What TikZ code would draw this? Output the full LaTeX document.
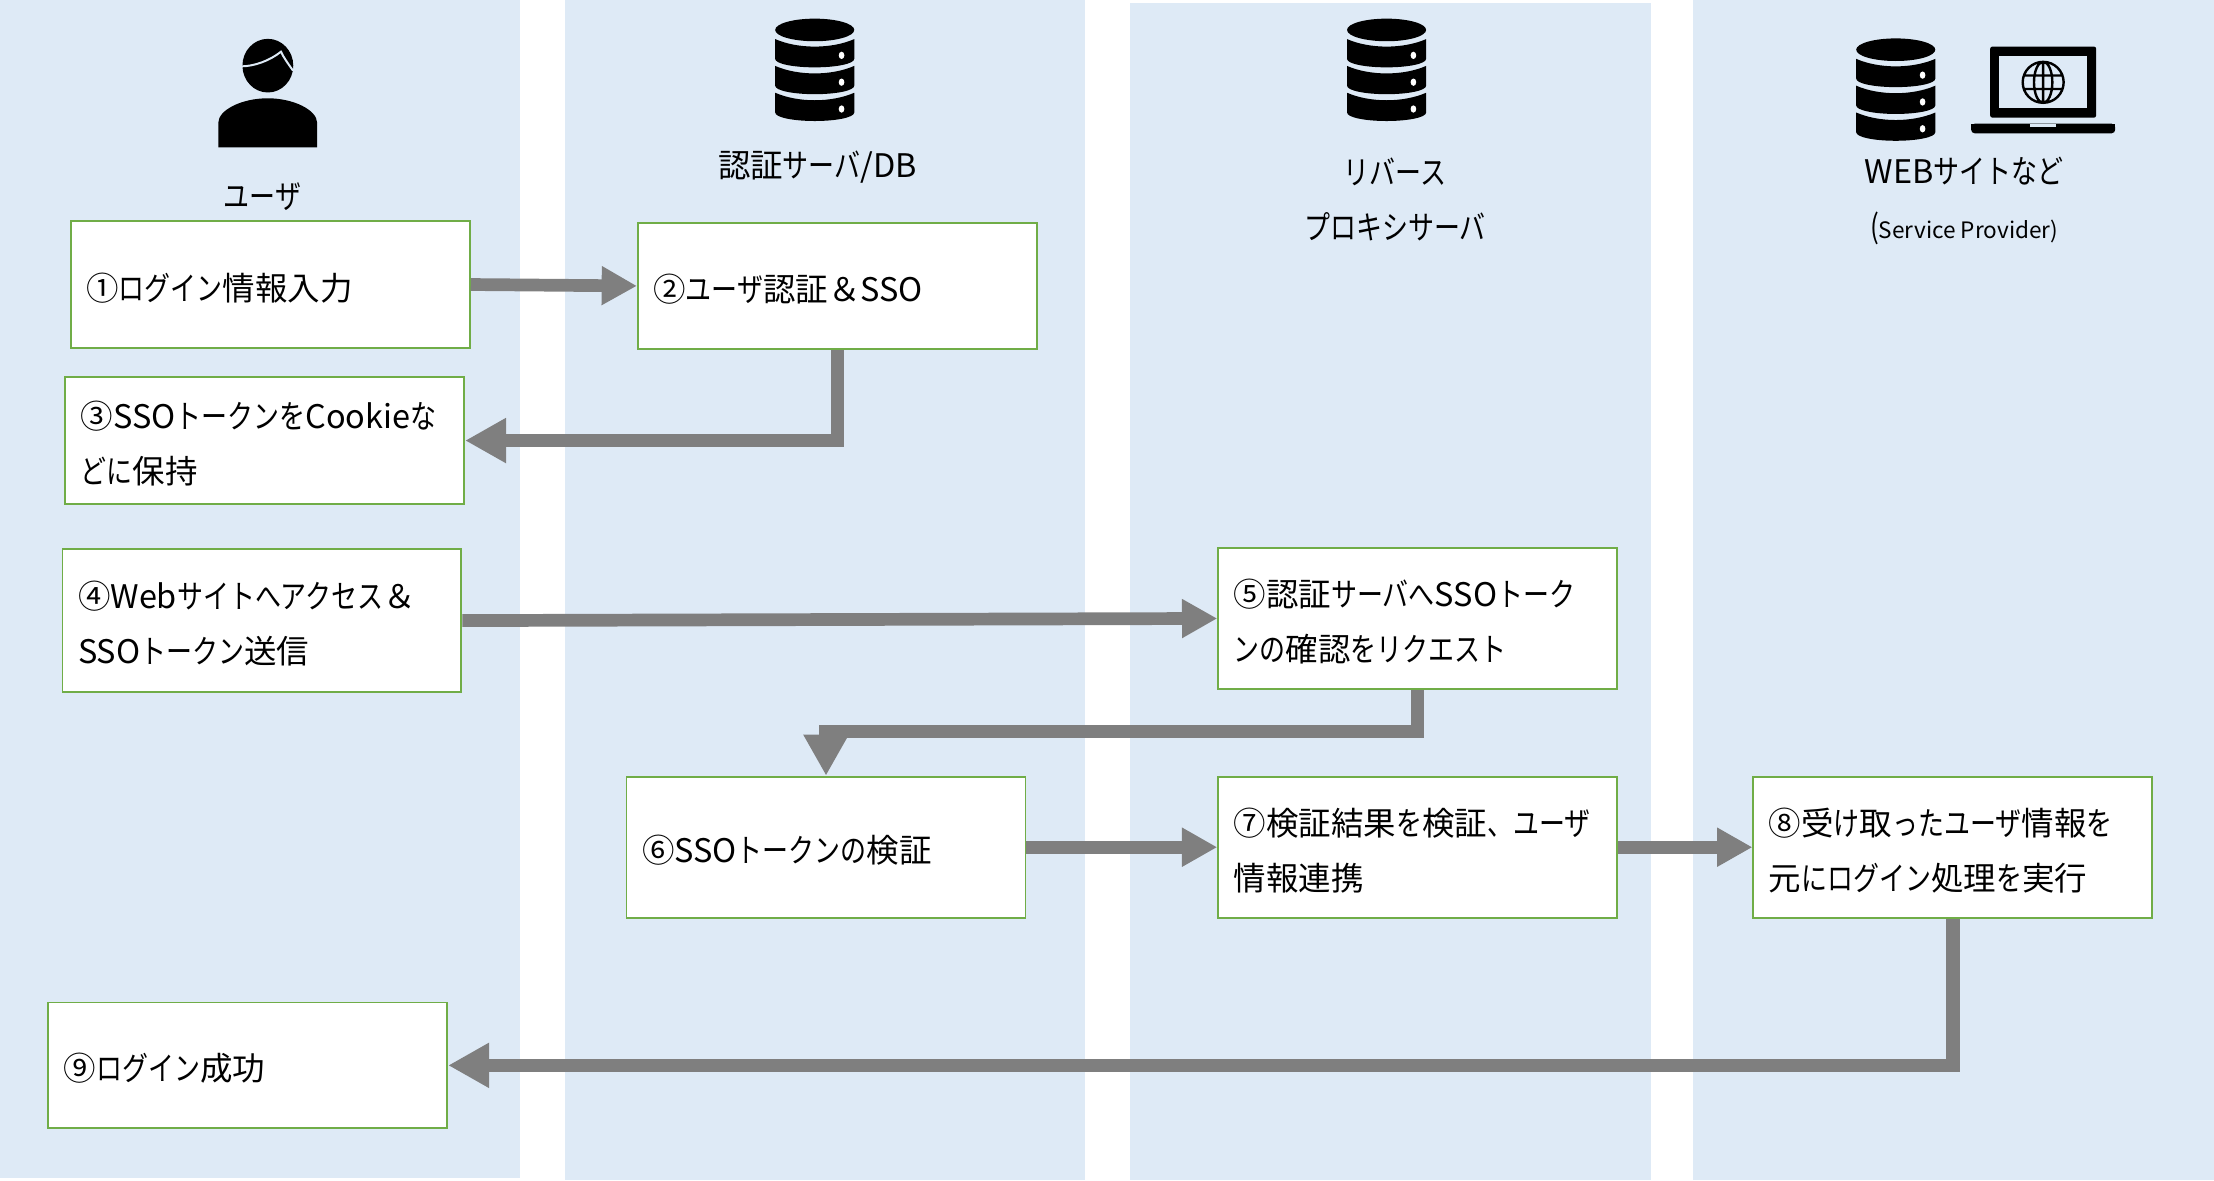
\documentclass[tikz,border=0pt]{standalone}
\usepackage{fontspec}
\setmainfont{Noto Sans CJK JP}[FakeStretch=0.8]
\newfontfamily\fullfont{Noto Sans CJK JP}
\newcommand\fw[1]{{\fullfont #1}}
\usetikzlibrary{arrows.meta}
\definecolor{panelblue}{HTML}{DEEAF6}
\definecolor{boxgreen}{HTML}{70AD47}
\definecolor{arrowgray}{HTML}{7F7F7F}
\begin{document}
\begin{tikzpicture}[x=1pt,y=-1pt]
        \tikzstyle{stepbox}=[draw=boxgreen,fill=white,line width=1.3pt,minimum width=282.5pt,text width=260.5pt,inner sep=11pt,align=left,font=\fontsize{23}{39}\selectfont,execute at begin node={\rule{0pt}{24pt}}]
        \tikzstyle{headlabel}=[align=center,inner sep=0pt,font=\fontsize{23}{39}\selectfont]
        \tikzstyle{flowsmall}=[draw=arrowgray,line width=9pt,-{Triangle[length=25pt,width=26pt]}]
        \tikzstyle{flowbig}=[draw=arrowgray,line width=9.5pt,-{Triangle[length=29pt,width=30pt]}]
        \tikzset{dbicon/.pic={
            \fill[black] (0,7.5) ellipse [x radius=28pt,y radius=8pt];
            \foreach \k in {0,19,38} {
                \fill[black,shift={(0,\k)}] (-28,14) .. controls (-20,17.5) and (-10,19.3) .. (0,19.3) .. controls (10,19.3) and (20,17.5) .. (28,14) -- (28,28) .. controls (28,31.5) and (15,34) .. (0,34) .. controls (-15,34) and (-28,31.5) .. (-28,28) -- cycle;
                \fill[white,shift={(0,\k)}] (19,25.5) ellipse [x radius=2pt,y radius=2.6pt];
            }
        }}
        \useasboundingbox (0,0) rectangle (1568,835.7);
        \fill[panelblue] (0,0) rectangle (368.5,834);
        \fill[panelblue] (400,0) rectangle (768.5,835.7);
        \fill[panelblue] (800,2) rectangle (1169,835.7);
        \fill[panelblue] (1199,0) rectangle (1568,835.7);
        % user icon
        \fill[black] (189.7,46.5) ellipse [x radius=18pt,y radius=19pt];
        \fill[black] (154.6,104.3) -- (154.6,87) .. controls (154.6,78) and (171,69.6) .. (189.6,69.6) .. controls (208,69.6) and (224.6,78) .. (224.6,87) -- (224.6,104.3) -- cycle;
        \draw[panelblue,line width=1.4pt] (170.5,47) .. controls (180,47) and (191,43) .. (199,36.6) .. controls (201,41) and (204,45) .. (207.5,50);
        % server icons
        \pic at (577,13.7) {dbicon};
        \pic at (982,13.7) {dbicon};
        \pic at (1342.6,27.7) {dbicon};
        % laptop
        \fill[black,rounded corners=1.5pt] (1409.5,83.3) -- (1409.5,33) -- (1484.5,33) -- (1484.5,83.3) -- cycle;
        \fill[panelblue] (1416,39.7) rectangle (1478,76.7);
        \fill[black,rounded corners=2.5pt] (1396,87.6) -- (1396,94.4) -- (1498,94.4) -- (1498,87.6) -- cycle;
        \fill[black] (1396,87.6) rectangle (1498,90);
        \fill[panelblue] (1438,87.6) rectangle (1456,90);
        \draw[black,line width=1.7pt] (1447,58.3) circle [radius=14.5pt] (1447,58.3) ellipse [x radius=6.5pt,y radius=14.5pt] (1447,43.8) -- (1447,72.8) (1433.5,53.5) -- (1460.5,53.5) (1433.5,63) -- (1460.5,63);
        % column titles
        \node[headlabel] (lblUser) at (186,139) {ユーザ};
        \node[headlabel] (lblAuth) at (579,118) {\fw{認証}サーバ\fw{/DB}};
        \node[headlabel] (lblProxy) at (988,141) {リバース\\プロキシサーバ};
        \node[headlabel] (lblSp) at (1391,142) {\fw{WEB}サイトなど\\{\fontsize{23}{39}\selectfont (}{\fontsize{16}{39}\fullfont Service Provider)}};
        % steps
        \node[stepbox,minimum height=90.5pt] (n1) at (191.5,201.5) {\fw{①}ログイン\fw{情報入力}};
        \node[stepbox,minimum height=89pt] (n2) at (593,202.5) {\fw{②}ユーザ\fw{認証＆SSO}};
        \node[stepbox,minimum height=90pt] (n3) at (187.5,312) {\fw{③SSO}トークンを\fw{Cookie}な\\どに\fw{保持}};
        \node[stepbox,minimum height=101pt] (n4) at (185.5,439.5) {\fw{④Web}サイトへアクセス\fw{＆}\\\fw{SSO}トークン\fw{送信}};
        \node[stepbox,minimum height=100pt] (n5) at (1004,438) {\fw{⑤認証}サーバへ\fw{SSO}トーク\\ンの\fw{確認}をリクエスト};
        \node[stepbox,minimum height=100pt] (n6) at (585,600) {\fw{⑥SSO}トークンの\fw{検証}};
        \node[stepbox,minimum height=100pt] (n7) at (1004,600) {\fw{⑦検証結果}を\fw{検証}、ユーザ\\\fw{情報連携}};
        \node[stepbox,minimum height=100pt] (n8) at (1383,600) {\fw{⑧受}け\fw{取}ったユーザ\fw{情報}を\\\fw{元}にログイン\fw{処理}を\fw{実行}};
        \node[stepbox,minimum height=89pt] (n9) at (175.5,754.5) {\fw{⑨}ログイン\fw{成功}};
        \coordinate (bend56) at (800,518);
        % flow
        \draw[flowsmall] (n1.east) -- (n2.west);
        \draw[flowbig] (n2.south) |- (n3.east);
        \draw[flowsmall] (n4.east) -- (n5.west);
        \draw[flowbig] (n5.south) |- (bend56) -| (n6.north);
        \draw[flowsmall] (n6.east) -- (n7.west);
        \draw[flowsmall] (n7.east) -- (n8.west);
        \draw[flowbig] (n8.south) |- (n9.east);
    \end{tikzpicture}
\end{document}
